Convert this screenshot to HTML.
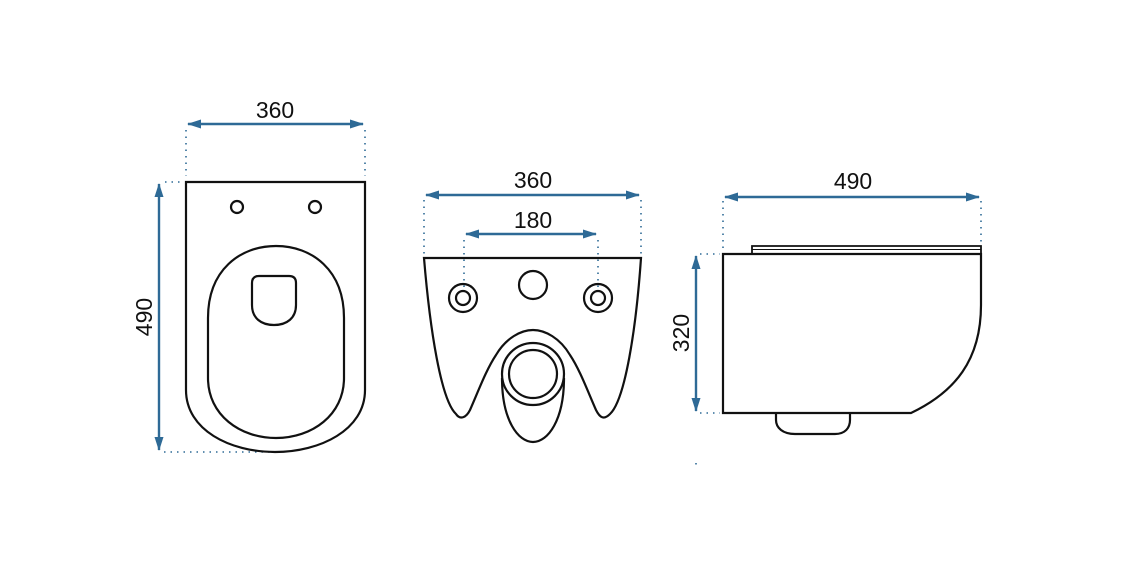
<!DOCTYPE html>
<html><head><style>body{margin:0;background:#fff}svg{display:block}</style></head><body>
<svg width="1123" height="587" viewBox="0 0 1123 587" xmlns="http://www.w3.org/2000/svg">
<defs><marker id="a" markerWidth="14" markerHeight="9" refX="13" refY="4.5" orient="auto-start-reverse" markerUnits="userSpaceOnUse"><path d="M0,0 L14,4.5 L0,9 Z" fill="#2e6a96"/></marker></defs>
<g font-family="Liberation Sans, sans-serif" font-size="23" fill="#111" text-anchor="middle">
<text x="275" y="118">360</text>
<text x="533" y="188">360</text>
<text x="533" y="228">180</text>
<text x="853" y="189">490</text>
<text transform="translate(152,317) rotate(-90)">490</text>
<text transform="translate(689,333) rotate(-90)">320</text>
</g>
<g stroke="#2e6a96" stroke-width="2.4" fill="none">
<line x1="188" y1="124" x2="363" y2="124" marker-start="url(#a)" marker-end="url(#a)"/>
<line x1="159" y1="184" x2="159" y2="450" marker-start="url(#a)" marker-end="url(#a)"/>
<line x1="426" y1="195" x2="639" y2="195" marker-start="url(#a)" marker-end="url(#a)"/>
<line x1="466" y1="234" x2="596" y2="234" marker-start="url(#a)" marker-end="url(#a)"/>
<line x1="725" y1="197" x2="979" y2="197" marker-start="url(#a)" marker-end="url(#a)"/>
<line x1="696" y1="256" x2="696" y2="411" marker-start="url(#a)" marker-end="url(#a)"/>
</g>
<g stroke="#2e6a96" stroke-width="1.6" stroke-dasharray="1.5 5" fill="none">
<line x1="186" y1="130" x2="186" y2="176"/><line x1="365" y1="130" x2="365" y2="176"/>
<line x1="165" y1="182" x2="182" y2="182"/><line x1="164" y1="452" x2="272" y2="452"/>
<line x1="424" y1="200" x2="424" y2="254"/><line x1="641" y1="200" x2="641" y2="254"/>
<line x1="464" y1="240" x2="464" y2="290"/><line x1="598" y1="240" x2="598" y2="290"/>
<line x1="723" y1="201" x2="723" y2="250"/><line x1="981" y1="201" x2="981" y2="245"/>
<line x1="700" y1="254" x2="720" y2="254"/><line x1="700" y1="413" x2="720" y2="413"/>
<line x1="696" y1="463" x2="696" y2="466"/>
</g>
<g stroke="#111" stroke-width="2.2" fill="none">
<path d="M186,182 H365 V390 C365,430 320,452 275,452 C230,452 186,430 186,390 Z"/>
<path d="M208,318 C208,270 240,246 276,246 C312,246 344,270 344,318 V378 C344,415 312,438 276,438 C240,438 208,415 208,378 Z"/>
<path d="M252,283 Q252,276 259,276 H289 Q296,276 296,283 V305 C296,318 287,325 274,325 C261,325 252,318 252,305 Z"/>
<circle cx="237" cy="207" r="6"/><circle cx="315" cy="207" r="6"/>
<path d="M424,258 H641 C636,330 625,400 610,414 C604,420 600,418 596,410 C588,392 580,370 570,355 C560,338 545,330 533,330 C521,330 506,338 496,355 C486,370 478,392 470,410 C466,418 460,420 456,414 C441,400 430,330 424,258 Z"/>
<circle cx="533" cy="285" r="14"/>
<circle cx="463" cy="298" r="14"/><circle cx="463" cy="298" r="7"/>
<circle cx="598" cy="298" r="14"/><circle cx="598" cy="298" r="7"/>
<circle cx="533" cy="374" r="31"/><circle cx="533" cy="374" r="24"/>
<path d="M502,378 C502,420 518,442 533,442 C548,442 564,420 564,378"/>
<path d="M723,254 H981 V305 C981,360 955,392 911,413 H723 Z"/>
<path d="M752,254 V246 H981 V254" stroke-width="1.8"/>
<line x1="752" y1="249.5" x2="981" y2="249.5" stroke-width="1"/>
<path d="M776,414 V420 C776,428 783,434 795,434 H835 C845,434 850,428 850,420 V414"/>
</g>
</svg>
</body></html>
